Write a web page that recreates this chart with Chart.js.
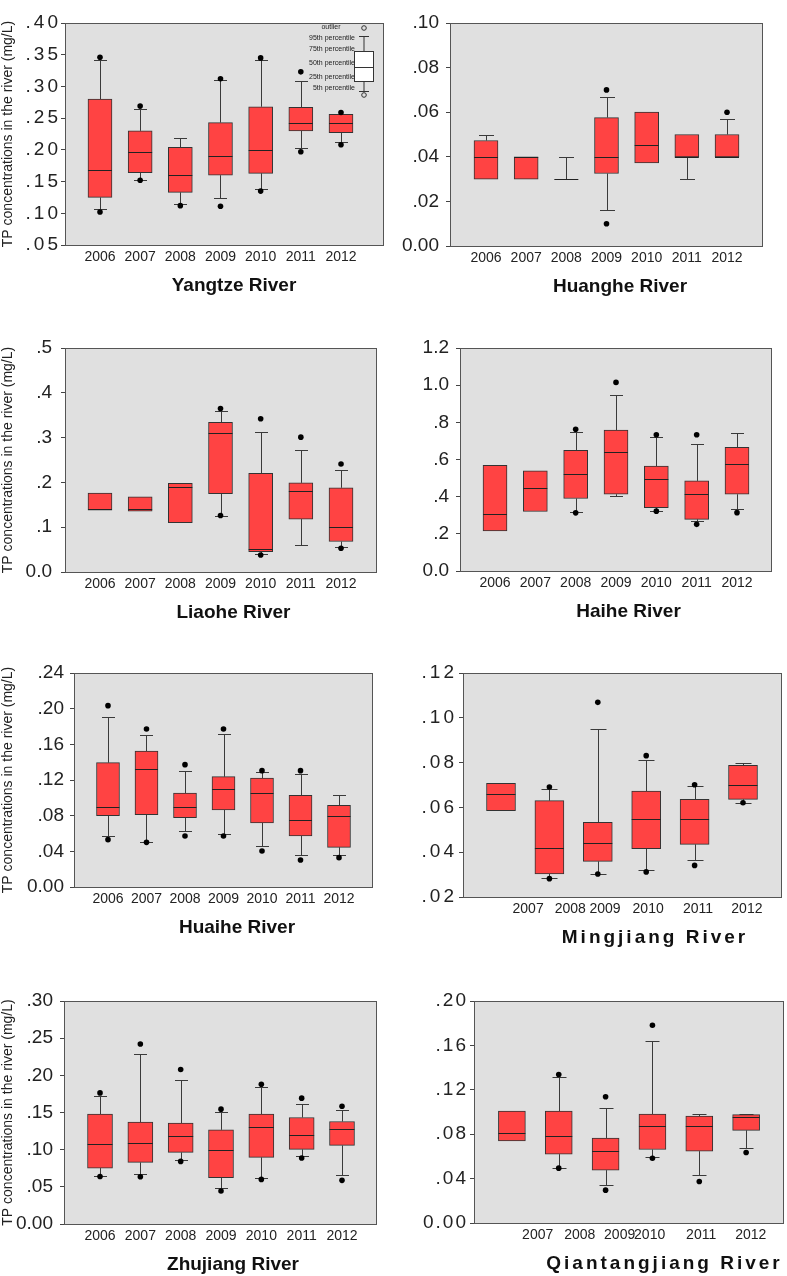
<!DOCTYPE html>
<html>
<head>
<meta charset="utf-8">
<script src="https://cdn.jsdelivr.net/npm/chart.js@4.4.0/dist/chart.umd.min.js"></script>
<style>
body { margin: 0; background: #fff; width: 787px; height: 1276px; position: relative; overflow: hidden; }
canvas { position: absolute; }
</style>
</head>
<body>
<canvas id="c1" width="390" height="298" style="left:0;top:0"></canvas>
<canvas id="c2" width="397" height="298" style="left:390px;top:0"></canvas>
<canvas id="c3" width="390" height="320" style="left:0;top:305px"></canvas>
<canvas id="c4" width="397" height="320" style="left:390px;top:305px"></canvas>
<canvas id="c5" width="390" height="312" style="left:0;top:628px"></canvas>
<canvas id="c6" width="397" height="322" style="left:390px;top:628px"></canvas>
<canvas id="c7" width="390" height="326" style="left:0;top:950px"></canvas>
<canvas id="c8" width="397" height="326" style="left:390px;top:950px"></canvas>
<script>
// TP concentrations (mg/L), box = 25th-75th, whiskers = 5th-95th
var years = [2006, 2007, 2008, 2009, 2010, 2011, 2012];
var years6 = [2007, 2008, 2009, 2010, 2011, 2012];

var yangtzeLo  = [.106, .153, .115, .124, .139, .203, .212];
var yangtzeQ1  = [.125, .164, .133, .160, .163, .230, .227];
var yangtzeMed = [.169, .196, .161, .190, .199, .243, .243];
var yangtzeQ3  = [.280, .230, .204, .243, .268, .267, .256];
var yangtzeHi  = [.341, .265, .218, .310, .341, .308, .256];
var yangtzeOut = [[2006, .346], [2006, .102], [2007, .269], [2007, .152], [2008, .112], [2009, .312], [2009, .111],
                  [2010, .345], [2010, .135], [2011, .323], [2011, .197], [2012, .259], [2012, .208]];

var huangheLo  = [.030, .030, .030, .016, .0373, .030, .040];
var huangheQ1  = [.030, .030, .030, .0325, .0373, .040, .040];
var huangheMed = [.040, .040, .030, .040, .0451, .040, .040];
var huangheQ3  = [.0473, .040, .030, .0576, .060, .050, .050];
var huangheHi  = [.050, .040, .040, .067, .060, .050, .057];
var huangheOut = [[2009, .070], [2009, .010], [2012, .060]];

var liaoheLo  = [.138, .136, .110, .126, .040, .061, .055];
var liaoheQ1  = [.138, .136, .110, .175, .0455, .118, .068];
var liaoheMed = [.140, .140, .190, .310, .052, .180, .101];
var liaoheQ3  = [.176, .168, .198, .334, .220, .199, .188];
var liaoheHi  = [.176, .168, .198, .359, .313, .272, .228];
var liaoheOut = [[2009, .365], [2009, .126], [2010, .342], [2010, .038], [2011, .301], [2012, .241], [2012, .053]];

var haiheLo  = [.216, .320, .320, .401, .325, .271, .332];
var haiheQ1  = [.216, .320, .390, .413, .341, .278, .413];
var haiheMed = [.309, .446, .521, .638, .494, .413, .575];
var haiheQ3  = [.568, .539, .650, .758, .564, .485, .666];
var haiheHi  = [.568, .539, .746, .945, .719, .683, .742];
var haiheOut = [[2008, .763], [2008, .313], [2009, 1.015], [2010, .733], [2010, .322], [2011, .733], [2011, .251], [2012, .314]];

var huaiheLo  = [.0572, .0508, .0628, .0598, .0464, .0363, .0363];
var huaiheQ1  = [.080, .0811, .0778, .0864, .0718, .0572, .0445];
var huaiheMed = [.0901, .132, .0901, .1099, .1054, .0751, .080];
var huaiheQ3  = [.1394, .1525, .1054, .1237, .1222, .1028, .0916];
var huaiheHi  = [.1907, .1708, .1305, .172, .129, .1264, .1028];
var huaiheOut = [[2006, .2034], [2006, .0531], [2007, .1772], [2007, .0501], [2008, .1372], [2008, .0572], [2009, .1772],
                 [2009, .0572], [2010, .1305], [2010, .0404], [2011, .1305], [2011, .0303], [2012, .0329]];

var mingjiangLo  = [.0585, .0285, .0303, .0319, .0365, .0621];
var mingjiangQ1  = [.0585, .0303, .0359, .0416, .0435, .0636];
var mingjiangMed = [.066, .0419, .044, .055, .055, .0699];
var mingjiangQ3  = [.0707, .063, .0533, .0673, .0636, .0788];
var mingjiangHi  = [.0707, .0684, .095, .0812, .0696, .0797];
var mingjiangOut = [[2008, .0691], [2008, .0282], [2009, .1069], [2009, .0303], [2010, .0831], [2010, .0312],
                    [2011, .0701], [2011, .0341], [2012, .0621]];

var zhujiangLo  = [.064, .0672, .0864, .0479, .0622, .0909, .0654];
var zhujiangQ1  = [.0752, .0828, .0963, .0622, .0896, .1003, .1057];
var zhujiangMed = [.1079, .1084, .1187, .099, .1307, .1191, .1281];
var zhujiangQ3  = [.1478, .137, .1357, .1267, .1478, .1433, .1379];
var zhujiangHi  = [.1728, .2288, .1943, .1509, .1845, .1612, .1527];
var zhujiangOut = [[2006, .1764], [2006, .064], [2007, .2422], [2007, .0636], [2008, .2078], [2008, .0842], [2009, .1545],
                   [2009, .0443], [2010, .1881], [2010, .060], [2011, .1693], [2011, .0887], [2012, .1585], [2012, .0587]];

var qiantangLo  = [.074, .0494, .0341, .0593, .0431, .068];
var qiantangQ1  = [.074, .062, .0476, .0662, .0647, .0835];
var qiantangMed = [.0814, .0781, .0647, .0871, .0871, .0955];
var qiantangQ3  = [.1009, .1009, .0766, .0982, .0964, .0976];
var qiantangHi  = [.1009, .1314, .1039, .1641, .0979, .0982];
var qiantangOut = [[2008, .1338], [2008, .0494], [2009, .1138], [2009, .0296], [2010, .1781], [2010, .0584], [2011, .0374], [2012, .0635]];

var yearLabels = ['2006', '2007', '2008', '2009', '2010', '2011', '2012'];
var shiftedLabels = ['2007', '2008', '2009', '2010', '2011', '2012'];
var yTitle = 'TP concentrations in the river (mg/L)';

Chart.defaults.font.family = '"Liberation Sans", Arial, sans-serif';
Chart.defaults.color = '#222';

var RED = '#ff4343';

function fmt(d) {
  return function (v) {
    if (Math.abs(v) < 1e-9) return (0).toFixed(d);
    var s = Number(v).toFixed(d);
    return s.charAt(0) === '0' ? s.slice(1) : s;
  };
}

function parts(p) {
  return {
    id: 'boxParts',
    afterLayout: function (chart) {
      // the SPSS export spreads the y tick digits on some panels
      var s = chart.scales.y;
      if (!p.ySpacing || s._spaced) return;
      var orig = s.drawLabels;
      s.drawLabels = function (area) {
        chart.ctx.save();
        chart.ctx.letterSpacing = p.ySpacing;
        orig.call(this, area);
        chart.ctx.restore();
      };
      s._spaced = true;
    },
    beforeDatasetsDraw: function (chart) {
      var ctx = chart.ctx, a = chart.chartArea, x = chart.scales.x, y = chart.scales.y;
      ctx.save();
      ctx.fillStyle = '#e0e0e0';
      ctx.fillRect(a.left, a.top, a.right - a.left, a.bottom - a.top);
      ctx.strokeStyle = '#3a3a3a';
      ctx.lineWidth = 1;
      p.cats.forEach(function (c, i) {
        var cx = Math.round(x.getPixelForValue(c)) + 0.5;
        [[p.q3[i], p.hi[i]], [p.q1[i], p.lo[i]]].forEach(function (w) {
          if (Math.abs(w[0] - w[1]) < 1e-9) return;
          var y0 = y.getPixelForValue(w[0]);
          var y1 = Math.round(y.getPixelForValue(w[1])) + 0.5;
          ctx.beginPath();
          ctx.moveTo(cx, y0); ctx.lineTo(cx, y1);
          ctx.moveTo(cx - p.cap / 2, y1); ctx.lineTo(cx + p.cap / 2, y1);
          ctx.stroke();
        });
      });
      ctx.restore();
    },
    afterDatasetsDraw: function (chart) {
      var ctx = chart.ctx, a = chart.chartArea, x = chart.scales.x, y = chart.scales.y;
      ctx.save();
      ctx.strokeStyle = '#222';
      ctx.lineWidth = 1;
      p.cats.forEach(function (c, i) {
        var cx = x.getPixelForValue(c);
        var my = Math.round(y.getPixelForValue(p.med[i])) + 0.5;
        ctx.beginPath();
        ctx.moveTo(cx - p.bw / 2, my); ctx.lineTo(cx + p.bw / 2, my);
        ctx.stroke();
      });
      ctx.strokeStyle = '#555';
      ctx.strokeRect(Math.round(a.left) + 0.5, Math.round(a.top) + 0.5,
        Math.round(a.right - a.left), Math.round(a.bottom - a.top));

      if (p.key) {
        var kx = a.right - 19, kt = a.top;
        ctx.strokeStyle = '#333';
        ctx.fillStyle = '#fff';
        ctx.fillRect(a.right - 29, kt + 28, 19, 30);
        ctx.strokeRect(a.right - 28.5, kt + 28.5, 19, 30);
        ctx.beginPath();
        ctx.moveTo(kx, kt + 28); ctx.lineTo(kx, kt + 13.5);
        ctx.moveTo(kx - 5, kt + 13.5); ctx.lineTo(kx + 5, kt + 13.5);
        ctx.moveTo(kx, kt + 58); ctx.lineTo(kx, kt + 68.5);
        ctx.moveTo(kx - 5, kt + 68.5); ctx.lineTo(kx + 5, kt + 68.5);
        ctx.moveTo(a.right - 29, kt + 44.5); ctx.lineTo(a.right - 10, kt + 44.5);
        ctx.stroke();
        ctx.beginPath(); ctx.arc(kx, kt + 5, 2.3, 0, Math.PI * 2); ctx.stroke();
        ctx.beginPath(); ctx.arc(kx, kt + 72, 2.3, 0, Math.PI * 2); ctx.stroke();
        ctx.fillStyle = '#222';
        ctx.font = '7px "Liberation Sans", Arial, sans-serif';
        ctx.textBaseline = 'middle';
        ctx.textAlign = 'center';
        ctx.fillText('outlier', a.right - 52, kt + 4);
        ctx.textAlign = 'right';
        ctx.fillText('95th percentile', a.right - 28, kt + 15);
        ctx.fillText('75th percentile', a.right - 28, kt + 26);
        ctx.fillText('50th percentile', a.right - 28, kt + 40);
        ctx.fillText('25th percentile', a.right - 28, kt + 54);
        ctx.fillText('5th percentile', a.right - 28, kt + 65);
      }

      ctx.fillStyle = '#111';
      ctx.font = 'bold 19px "Liberation Sans", Arial, sans-serif';
      ctx.textAlign = 'center';
      ctx.textBaseline = 'middle';
      if (p.spaced) ctx.letterSpacing = '3px';
      ctx.fillText(p.title, (a.left + a.right) / 2 + p.dx, a.bottom + 41);
      ctx.restore();
    }
  };
}

function panel(id, p) {
  var boxes = p.cats.map(function (c, i) { return { x: c, y: [p.q1[i], p.q3[i]] }; });
  var dots = p.out.map(function (o) { return { x: o[0], y: o[1] }; });
  new Chart(document.getElementById(id), {
    type: 'bar',
    data: {
      datasets: [
        { type: 'scatter', data: dots, pointRadius: 2.8, pointBackgroundColor: '#000', pointBorderWidth: 0 },
        { data: boxes, backgroundColor: RED, borderColor: '#333', borderWidth: 1, borderSkipped: false, barThickness: p.bw }
      ]
    },
    options: {
      responsive: false,
      animation: false,
      events: [],
      layout: { padding: { top: p.padTop, right: p.padRight, left: 0, bottom: 0 } },
      plugins: { legend: { display: false }, tooltip: { enabled: false } },
      scales: {
        x: {
          type: 'linear', offset: false, min: p.xMin, max: p.xMax,
          grid: { display: false, drawTicks: false, offset: false },
          border: { display: true, color: '#555' },
          afterBuildTicks: function (s) { s.ticks = p.tickPos.map(function (v) { return { value: v }; }); },
          afterFit: function (s) { s.height = p.xH; },
          ticks: { padding: 4, maxRotation: 0, autoSkip: false, font: { size: 14 }, color: '#222',
            callback: function (v, i) { return p.tickText[i]; } }
        },
        y: {
          min: p.yMin, max: p.yMax,
          afterFit: function (s) { s.width = p.yW; },
          grid: { drawOnChartArea: false, tickLength: 4, color: '#444' },
          border: { display: true, color: '#555' },
          ticks: { stepSize: p.step, padding: p.yPad, font: { size: 19 }, color: '#222', callback: fmt(p.dec) },
          title: { display: !!p.yTitle, text: p.yTitle || '', font: { size: 14 }, padding: 0, color: '#222' }
        }
      }
    },
    plugins: [parts(p)]
  });
}

panel('c1', { title: 'Yangtze River', cats: years, lo: yangtzeLo, q1: yangtzeQ1, med: yangtzeMed, q3: yangtzeQ3, hi: yangtzeHi, out: yangtzeOut,
  tickPos: years, tickText: yearLabels, xMin: 2005.129, xMax: 2013.046, yMin: .05, yMax: .40, step: .05, dec: 2,
  yW: 65, padTop: 23, padRight: 7, xH: 53, yPad: 0, bw: 24, cap: 13, dx: 10, key: true, yTitle: yTitle, ySpacing: '3px' });

panel('c2', { title: 'Huanghe River', cats: years, lo: huangheLo, q1: huangheQ1, med: huangheMed, q3: huangheQ3, hi: huangheHi, out: huangheOut,
  tickPos: years, tickText: yearLabels, xMin: 2005.104, xMax: 2012.871, yMin: 0, yMax: .10, step: .02, dec: 2,
  yW: 60, padTop: 23, padRight: 25, xH: 52, yPad: 7, bw: 24, cap: 15, dx: 14 });

panel('c3', { title: 'Liaohe River', cats: years, lo: liaoheLo, q1: liaoheQ1, med: liaoheMed, q3: liaoheQ3, hi: liaoheHi, out: liaoheOut,
  tickPos: years, tickText: yearLabels, xMin: 2005.129, xMax: 2012.871, yMin: 0, yMax: .5, step: .1, dec: 1,
  yW: 65, padTop: 43, padRight: 14, xH: 53, yPad: 9, bw: 24, cap: 13, dx: 13, yTitle: yTitle });

panel('c4', { title: 'Haihe River', cats: years, lo: haiheLo, q1: haiheQ1, med: haiheMed, q3: haiheQ3, hi: haiheHi, out: haiheOut,
  tickPos: years, tickText: yearLabels, xMin: 2005.132, xMax: 2012.843, yMin: 0, yMax: 1.2, step: .2, dec: 1,
  yW: 70, padTop: 43, padRight: 16, xH: 54, yPad: 7, bw: 24, cap: 13, dx: 13 });

panel('c5', { title: 'Huaihe River', cats: years, lo: huaiheLo, q1: huaiheQ1, med: huaiheMed, q3: huaiheQ3, hi: huaiheHi, out: huaiheOut,
  tickPos: years, tickText: yearLabels, xMin: 2005.117, xMax: 2012.857, yMin: 0, yMax: .24, step: .04, dec: 2,
  yW: 74, padTop: 45, padRight: 18, xH: 53, yPad: 6, bw: 23, cap: 13, dx: 14, yTitle: yTitle });

panel('c6', { title: 'Mingjiang River', cats: years6, lo: mingjiangLo, q1: mingjiangQ1, med: mingjiangMed, q3: mingjiangQ3, hi: mingjiangHi, out: mingjiangOut,
  tickPos: [2007.56, 2008.43, 2009.15, 2010.04, 2011.07, 2012.08], tickText: shiftedLabels,
  xMin: 2006.215, xMax: 2012.785, yMin: .02, yMax: .12, step: .02, dec: 2,
  yW: 73, padTop: 45, padRight: 6, xH: 53, yPad: 2, bw: 29, cap: 16, dx: 33, spaced: true, ySpacing: '3px' });

panel('c7', { title: 'Zhujiang River', cats: years, lo: zhujiangLo, q1: zhujiangQ1, med: zhujiangMed, q3: zhujiangQ3, hi: zhujiangHi, out: zhujiangOut,
  tickPos: years, tickText: yearLabels, xMin: 2005.107, xMax: 2012.843, yMin: 0, yMax: .30, step: .05, dec: 2,
  yW: 64, padTop: 51, padRight: 14, xH: 52, yPad: 7, bw: 25, cap: 13, dx: 13, yTitle: yTitle });

panel('c8', { title: 'Qiantangjiang River', cats: years6, lo: qiantangLo, q1: qiantangQ1, med: qiantangMed, q3: qiantangQ3, hi: qiantangHi, out: qiantangOut,
  tickPos: [2007.55, 2008.45, 2009.3, 2009.94, 2011.04, 2012.1], tickText: shiftedLabels,
  xMin: 2006.191, xMax: 2012.787, yMin: 0, yMax: .20, step: .04, dec: 2,
  yW: 84, padTop: 51, padRight: 3, xH: 53, yPad: 2, bw: 27, cap: 14, dx: 36, spaced: true, ySpacing: '2px' });
</script>
</body>
</html>
